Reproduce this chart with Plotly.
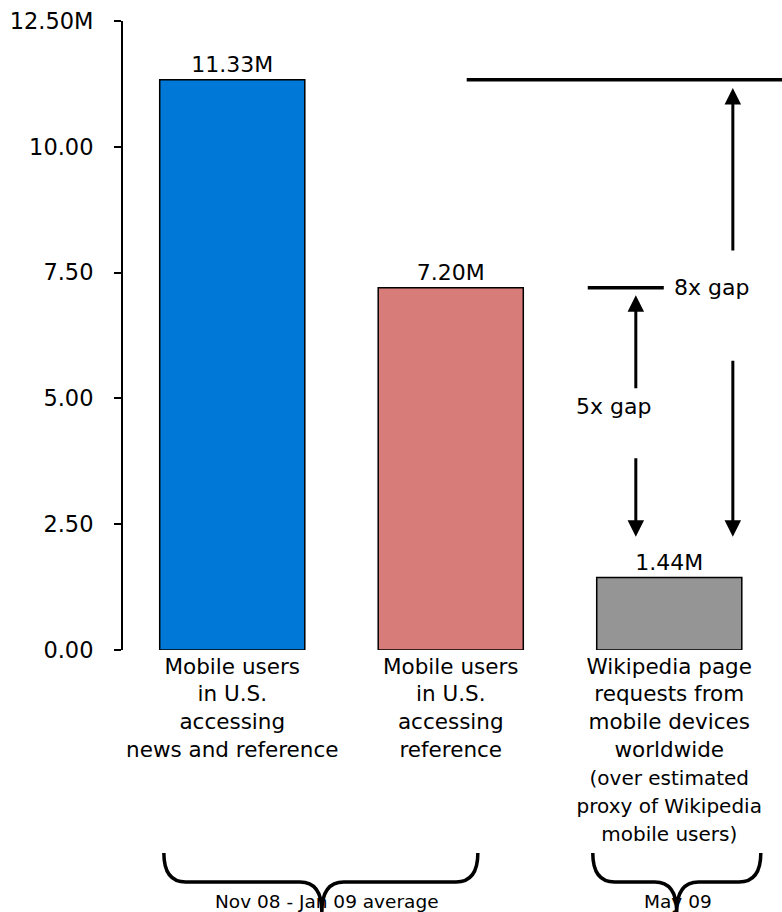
import plotly.graph_objects as go

# ---- data ----
categories = [0, 1, 2]
values = [11.33, 7.20, 1.44]
bar_labels = ["11.33M", "7.20M", "1.44M"]
bar_colors = ["#0078D7", "#D77C79", "#959595"]
cat_labels = [
    "Mobile users<br>in U.S.<br>accessing<br>news and reference",
    "Mobile users<br>in U.S.<br>accessing<br>reference",
    "Wikipedia page<br>requests from<br>mobile devices<br>worldwide<br>"
    "<span style='font-size:20px'>(over estimated<br>proxy of Wikipedia<br>mobile users)</span>",
]
y_tickvals = [0, 2.5, 5, 7.5, 10, 12.5]
y_ticktext = ["0.00", "2.50", "5.00", "7.50", "10.00", "12.50M"]
period_labels = ["Nov 08 - Jan 09 average", "May 09"]
gap_labels = ["5x gap", "8x gap"]

FONT = "DejaVu Sans, Verdana, sans-serif"

fig = go.Figure()
fig.add_trace(go.Bar(
    x=categories, y=values, width=0.664,
    marker=dict(color=bar_colors, line=dict(color="black", width=1.5)),
    text=bar_labels, textposition="outside", cliponaxis=False,
    textfont=dict(family=FONT, size=22, color="black"),
))

W, H = 782, 912
ml, mr, mt, mb = 123, 0, 21, 262

fig.update_layout(
    width=W, height=H,
    margin=dict(l=ml, r=mr, t=mt, b=mb, pad=0),
    plot_bgcolor="white", paper_bgcolor="white",
    showlegend=False,
    font=dict(family=FONT, size=22, color="black"),
    xaxis=dict(range=[-0.5, 2.516], tickvals=categories, ticktext=cat_labels,
               showline=False, showgrid=False, zeroline=False, ticks="",
               tickfont=dict(size=21.5), ticklabelstandoff=1),
    yaxis=dict(range=[0, 12.5], tickvals=y_tickvals, ticktext=y_ticktext,
               showline=True, linecolor="black", linewidth=2,
               ticks="outside", ticklen=7, tickwidth=2, tickcolor="black",
               showgrid=False, zeroline=False, tickfont=dict(size=22.5),
               ticklabelstandoff=16),
)

shapes = []
shapes.append(dict(type="line", xref="x", yref="y", x0=1.073, x1=2.516,
                   y0=values[0], y1=values[0], line=dict(color="black", width=3.5)))
shapes.append(dict(type="line", xref="x", yref="y", x0=1.627, x1=1.975,
                   y0=values[1], y1=values[1], line=dict(color="black", width=3.5)))


def brace(x0, x1, xt, ytop, ymid, ybot, rx=0.1, rxt=0.1):
    return (f"M {x0},{ytop} Q {x0},{ymid} {x0+rx},{ymid} "
            f"L {xt-rxt},{ymid} Q {xt},{ymid} {xt},{ybot} "
            f"Q {xt},{ymid} {xt+rxt},{ymid} "
            f"L {x1-rx},{ymid} Q {x1},{ymid} {x1},{ytop}")


def py2paper(py):
    return (H - mb - py) / (H - mt - mb)


ytop, ymid, ybot = py2paper(853), py2paper(882), py2paper(912)
shapes.append(dict(type="path", xref="x", yref="paper",
                   path=brace(-0.313, 1.124, 0.410, ytop, ymid, ybot),
                   line=dict(color="black", width=3.5)))
shapes.append(dict(type="path", xref="x", yref="paper",
                   path=brace(1.650, 2.419, 2.034, ytop, ymid, ybot),
                   line=dict(color="black", width=3.5)))
fig.update_layout(shapes=shapes)

ann = []
for txt, xc in zip(period_labels, [0.432, 2.039]):
    ann.append(dict(text=txt, x=xc, y=py2paper(901), xref="x", yref="paper",
                    showarrow=False, font=dict(size=18.5), xanchor="center", yanchor="middle"))

arrows = [  # (x, head_y, tail_y)
    (1.847, 7.05, 5.17),
    (1.847, 2.25, 3.84),
    (2.291, 11.17, 7.91),
    (2.291, 2.25, 5.78),
]
for x, yh, yt in arrows:
    ann.append(dict(x=x, y=yh, ax=x, ay=yt, xref="x", yref="y", axref="x", ayref="y",
                    text="", showarrow=True, arrowhead=2, arrowsize=1.1,
                    arrowwidth=3, arrowcolor="black", standoff=0))

ann.append(dict(text=gap_labels[0], x=1.746, y=4.83, xref="x", yref="y",
                showarrow=False, font=dict(size=22)))
ann.append(dict(text=gap_labels[1], x=2.194, y=7.21, xref="x", yref="y",
                showarrow=False, font=dict(size=22)))
fig.update_layout(annotations=ann)

fig.write_html("out.html", config={"displayModeBar": False},
               post_script="document.body.style.margin='0';document.body.style.overflow='hidden';")
